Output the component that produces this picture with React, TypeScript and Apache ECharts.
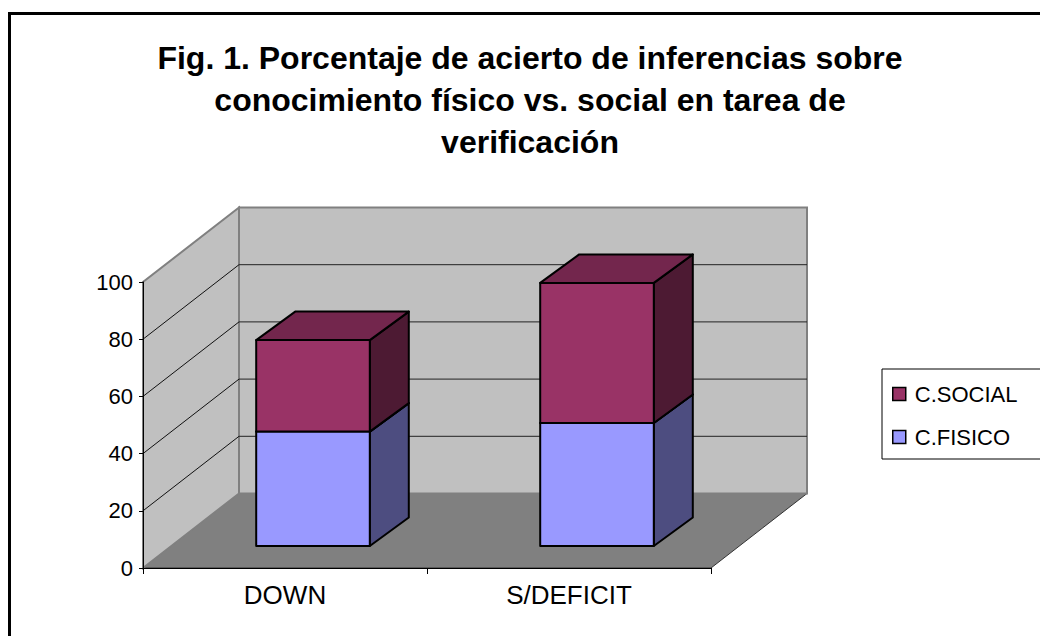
import React, { useEffect, useRef } from 'react';
import * as echarts from 'echarts';

const categories = ['DOWN', 'S/DEFICIT'];
const fisicoValues = [40, 43];
const socialValues = [32, 49];
const yTicks = [0, 20, 40, 60, 80, 100];
const legendOrder = ['C.SOCIAL', 'C.FISICO'];
const titleText =
  'Fig. 1. Porcentaje de acierto de inferencias sobre\nconocimiento físico vs. social en tarea de\nverificación';

// geometry / style constants (not data)
const DEPTH = [96, -74.5];
const BAR_OFFSET = [28, -22];
const BAR_DEPTH = [39, -28.5];
const BAR_WIDTH = 0.4;
const FONT = 'Arial, "Liberation Sans", sans-serif';

export default function App() {
  const ref = useRef<HTMLDivElement>(null);

  useEffect(() => {
    const chart = echarts.init(ref.current as HTMLDivElement, null, { renderer: 'svg' });

    const wallsRender = (params: any, api: any) => {
      const cs = params.coordSys;
      const x0 = cs.x;
      const x1 = cs.x + cs.width;
      const y0 = api.coord([0, yTicks[0]])[1];
      const yTop = api.coord([0, yTicks[yTicks.length - 1]])[1];
      const [dx, dy] = DEPTH;
      const children: any[] = [];
      children.push({
        type: 'polygon',
        shape: { points: [[x0, y0], [x1, y0], [x1 + dx, y0 + dy], [x0 + dx, y0 + dy]] },
        style: { fill: '#808080', stroke: '#333333', lineWidth: 1 },
      });
      children.push({
        type: 'polygon',
        shape: { points: [[x0, y0], [x0, yTop], [x0 + dx, yTop + dy], [x0 + dx, y0 + dy]] },
        style: { fill: '#C0C0C0', stroke: '#808080', lineWidth: 2 },
      });
      children.push({
        type: 'rect',
        shape: { x: x0 + dx, y: yTop + dy, width: x1 - x0, height: y0 - yTop },
        style: { fill: '#C0C0C0', stroke: '#808080', lineWidth: 2 },
      });
      yTicks.slice(1, yTicks.length - 1).forEach((v) => {
        const y = api.coord([0, v])[1];
        children.push({
          type: 'line',
          shape: { x1: x0, y1: y, x2: x0 + dx, y2: y + dy },
          style: { stroke: '#111111', lineWidth: 1 },
        });
        children.push({
          type: 'line',
          shape: { x1: x0 + dx, y1: y + dy, x2: x1 + dx, y2: y + dy },
          style: { stroke: '#222222', lineWidth: 1 },
        });
      });
      return { type: 'group', children };
    };

    const boxRender = (front: string, top: string, side: string) => (params: any, api: any) => {
      const i = api.value(0);
      const base = api.value(1);
      const val = api.value(2);
      const b = api.coord([i, base]);
      const t = api.coord([i, val]);
      const bw = api.size([1, 0])[0] * BAR_WIDTH;
      const xl = b[0] - bw / 2 + BAR_OFFSET[0];
      const xr = b[0] + bw / 2 + BAR_OFFSET[0];
      const yb = b[1] + BAR_OFFSET[1];
      const yt = t[1] + BAR_OFFSET[1];
      const [dx, dy] = BAR_DEPTH;
      const st = { stroke: '#000', lineWidth: 2, lineJoin: 'round' };
      return {
        type: 'group',
        children: [
          {
            type: 'polygon',
            shape: { points: [[xr, yb], [xr + dx, yb + dy], [xr + dx, yt + dy], [xr, yt]] },
            style: { fill: side, ...st },
          },
          {
            type: 'polygon',
            shape: { points: [[xl, yt], [xr, yt], [xr + dx, yt + dy], [xl + dx, yt + dy]] },
            style: { fill: top, ...st },
          },
          {
            type: 'rect',
            shape: { x: xl, y: yt, width: xr - xl, height: yb - yt },
            style: { fill: front, ...st },
          },
        ],
      };
    };

    const option: any = {
      animation: false,
      backgroundColor: '#ffffff',
      title: {
        text: titleText,
        left: 525,
        top: 32,
        padding: 5,
        textAlign: 'center',
        textStyle: { fontSize: 32, fontWeight: 'bold', fontFamily: FONT, lineHeight: 42, color: '#000' },
      },
      legend: {
        data: legendOrder,
        orient: 'vertical',
        left: 882,
        top: 369,
        padding: [14, 40, 11, 10],
        itemGap: 21,
        itemWidth: 13,
        itemHeight: 13,
        icon: 'rect',
        borderColor: '#000',
        borderWidth: 1,
        backgroundColor: '#fff',
        itemStyle: { borderColor: '#000', borderWidth: 1.5 },
        textStyle: { fontSize: 22, fontFamily: FONT, color: '#000', padding: [0, 0, 0, 4] },
      },
      grid: { left: 143, top: 282, width: 568, height: 286 },
      xAxis: {
        type: 'category',
        data: categories,
        z: 10,
        axisLine: { lineStyle: { color: '#000', width: 1 } },
        axisTick: { show: true, length: 6, lineStyle: { color: '#000' } },
        axisLabel: { fontSize: 26, fontFamily: FONT, color: '#000', margin: 14 },
        splitLine: { show: false },
      },
      yAxis: {
        type: 'value',
        min: 0,
        max: 100,
        interval: 20,
        z: 10,
        axisLine: { show: true, lineStyle: { color: '#000', width: 1 } },
        axisTick: { show: true, length: 4, lineStyle: { color: '#000' } },
        axisLabel: { fontSize: 22, fontFamily: FONT, color: '#000', margin: 10 },
        splitLine: { show: false },
      },
      graphic: [
        {
          type: 'rect',
          shape: { x: 9.5, y: 13.5, width: 1100, height: 700 },
          style: { fill: 'none', stroke: '#000', lineWidth: 3 },
          z: 100,
        },
      ],
      series: [
        {
          type: 'custom',
          name: 'walls',
          z: 1,
          silent: true,
          renderItem: wallsRender,
          data: [[0, 0]],
          encode: { x: 0, y: 1 },
        },
        {
          type: 'custom',
          name: 'C.FISICO',
          z: 3,
          itemStyle: { color: '#9999FF' },
          renderItem: boxRender('#9999FF', '#7373BF', '#4D4D80'),
          data: fisicoValues.map((v, i) => [i, 0, v]),
          encode: { x: 0, y: [1, 2] },
        },
        {
          type: 'custom',
          name: 'C.SOCIAL',
          z: 4,
          itemStyle: { color: '#993366' },
          renderItem: boxRender('#993366', '#73264D', '#4D1A33'),
          data: socialValues.map((v, i) => [i, fisicoValues[i], fisicoValues[i] + v]),
          encode: { x: 0, y: [1, 2] },
        },
      ],
    };

    chart.setOption(option);
    return () => chart.dispose();
  }, []);

  return (
    <div
      ref={ref}
      style={{ position: 'fixed', left: 0, top: 0, width: 1040, height: 636, background: '#fff' }}
    />
  );
}
